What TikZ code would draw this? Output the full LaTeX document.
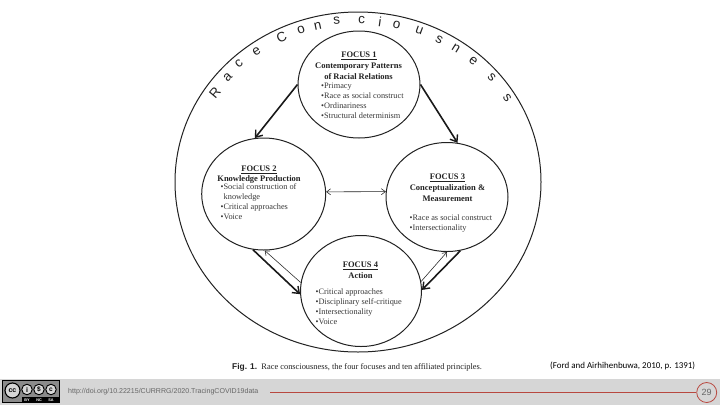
\documentclass[tikz,border=0pt]{standalone}
\usepackage{fontspec}
\setmainfont{Liberation Serif}
\newfontfamily\arialf{Liberation Sans}
\newfontfamily\calibf{Carlito}
\usetikzlibrary{shapes.geometric,arrows.meta}
\definecolor{ink}{HTML}{222222}
\definecolor{band}{HTML}{D6D6D6}
\definecolor{redline}{HTML}{B8483F}
\definecolor{urlgray}{HTML}{666666}
\tikzset{
  ring/.style={draw=ink,line width=1pt,ellipse,inner sep=0pt},
  hd/.style={font=\fontsize{8.5}{10}\selectfont\bfseries,text=ink,align=center,inner sep=0pt},
  lst/.style={font=\fontsize{8.3}{10}\selectfont,text=ink!90,align=left,inner sep=0pt,anchor=north west},
  heavy/.style={draw=black!90,line width=1.6pt,-{Straight Barb[length=6pt,width=9pt,line width=1.4pt]}},
  light/.style={draw=ink,line width=0.55pt,-{Straight Barb[length=4pt,width=6pt]}},
  lighttwo/.style={draw=ink,line width=0.55pt,{Straight Barb[length=4pt,width=6pt]}-{Straight Barb[length=4pt,width=6pt]}},
  arcl/.style={font=\arialf\fontsize{13.5}{15}\selectfont,text=ink,inner sep=0pt}
}
\begin{document}
\begin{tikzpicture}[x=1pt,y=-1pt]
\useasboundingbox (0,0) rectangle (720,405);
\fill[white] (0,0) rectangle (720,405);
\node[name=outer,draw=ink,line width=1pt,ellipse,inner sep=0pt,minimum width=366pt,minimum height=340pt] at (358,182) {};
\node[ring,minimum width=122pt,minimum height=107pt] (f1) at (359,84.5) {};
\node[ring,minimum width=124pt,minimum height=112pt] (f2) at (263.7,194) {};
\node[ring,minimum width=122pt,minimum height=109pt] (f3) at (447,197) {};
\node[ring,minimum width=121pt,minimum height=111pt] (f4) at (361,291) {};
% arc letters
\foreach \ch/\px/\py/\rot [count=\i] in {R/215/93/50,a/227.7/77/45,c/239/64/40,e/256.7/51.7/33,C/281.7/37/25,o/301/30/18,n/317.7/26/12,s/336.7/20.7/5,c/361.7/20/-2,i/380/21.7/-8,o/396.7/25/-14,u/419.3/30.7/-20,s/439.3/39.3/-26,n/456/48.3/-32,e/473.3/60.7/-38,s/491.7/77.3/-45,s/507.3/98.3/-52}
  \node[arcl,rotate=\rot] (letter\i) at (\px,\py) {\ch};
% focus 1
\node[hd] (h1) at (359,55.5) {\underline{FOCUS 1}};
\node[hd] (t1) at (358.5,71) {Contemporary Patterns\\[0.6pt]of Racial Relations};
\node[lst] (l1) at (321,82.5) {•Primacy\\•Race as social construct\\•Ordinariness\\•Structural determinism};
% focus 2
\node[hd] (h2) at (259,169.5) {\underline{FOCUS 2}};
\node[hd] (t2) at (259,179) {Knowledge Production};
\node[lst] (l2) at (220.5,183) {•Social construction of\\\hspace{3pt}knowledge\\•Critical approaches\\•Voice};
% focus 3
\node[hd] (h3) at (447.5,177.5) {\underline{FOCUS 3}};
\node[hd] (t3) at (447.5,193) {Conceptualization \&\\[0.6pt]Measurement};
\node[lst] (l3) at (409.5,214.5) {•Race as social construct\\•Intersectionality};
% focus 4
\node[hd] (h4) at (360.5,266) {\underline{FOCUS 4}};
\node[hd] (t4) at (360.5,276) {Action};
\node[lst] (l4) at (315.5,289) {•Critical approaches\\•Disciplinary self-critique\\•Intersectionality\\•Voice};
% connectors
\draw[heavy] (f1.180) -- (f2.99);
\draw[heavy] (f1.0) -- (f3.79.5);
\draw[lighttwo] (f2.2) -- (f3.175);
\draw[heavy] (f2.259) -- (f4.183);
\draw[light] (f4.172) -- (f2.271);
\draw[light] (f4.9) -- (f3.270);
\draw[heavy] (f3.284) -- (f4.1);
% captions
\node[font=\fontsize{8.4}{10}\selectfont,text=ink,inner sep=0pt,anchor=west] (cap) at (232,367.5) {{\arialf\bfseries Fig. 1.}\ \ Race consciousness, the four focuses and ten affiliated principles.};
\node[font=\calibf\fontsize{8.95}{10}\selectfont,text=black,inner sep=0pt,anchor=west] (cite) at (550,366) {(Ford and Airhihenbuwa, 2010, p. 1391)};
% footer
\fill[band] (0,379) rectangle (720,405);
\coordinate (ls) at (270,392.5);
\node[draw=redline,line width=0.8pt,circle,minimum size=20pt,inner sep=0pt,font=\arialf\fontsize{9}{10}\selectfont,text=urlgray] (pg) at (706.7,392.5) {29};
\draw[redline,line width=0.8pt] (ls) -- (pg);
\node[font=\arialf\fontsize{7.05}{8}\selectfont,text=urlgray,inner sep=0pt,anchor=west] (url) at (68,392) {http://doi.org/10.22215/CURRRG/2020.TracingCOVID19data};
% cc badge
\node[draw=black,fill=black!35!band,line width=0.7pt,minimum width=57pt,minimum height=22pt,inner sep=0pt] (badge) at (30.5,391.5) {};
\fill[black] (22,397) rectangle (59,402.5);
\node[draw=black,fill=band,line width=1.1pt,circle,minimum size=15pt,inner sep=0pt,font=\arialf\bfseries\fontsize{7}{8}\selectfont] (cc) at (12.5,390.5) {cc};
\node[draw=black,fill=band,line width=0.9pt,circle,minimum size=10.5pt,inner sep=0pt,font=\arialf\bfseries\fontsize{7}{7}\selectfont] (by) at (27,389.5) {i};
\node[draw=black,fill=band,line width=0.9pt,circle,minimum size=10.5pt,inner sep=0pt,font=\arialf\bfseries\fontsize{6.5}{7}\selectfont] (nc) at (39,389.5) {\$};
\node[draw=black,fill=band,line width=0.9pt,circle,minimum size=10.5pt,inner sep=0pt,font=\arialf\bfseries\fontsize{6.5}{7}\selectfont] (sa) at (51,389.5) {c};
\node[font=\arialf\bfseries\fontsize{3.8}{4}\selectfont,text=white,inner sep=0pt] (byt) at (27,399.8) {BY};
\node[font=\arialf\bfseries\fontsize{3.8}{4}\selectfont,text=white,inner sep=0pt] (nct) at (39,399.8) {NC};
\node[font=\arialf\bfseries\fontsize{3.8}{4}\selectfont,text=white,inner sep=0pt] (sat) at (51,399.8) {SA};
\end{tikzpicture}
\end{document}
